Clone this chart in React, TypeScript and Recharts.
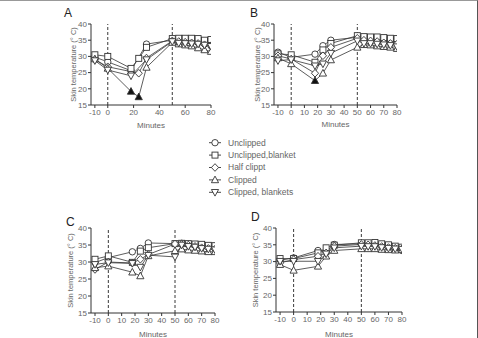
import React from 'react';
import { LineChart, Line, XAxis, YAxis, ReferenceLine } from 'recharts';

// Sampling times (minutes relative to clipping at 0)
const minutes = [-10, 0, 18, 24, 30, 50, 55, 60, 65, 70, 75, 80];
const xTicks = [-10, 0, 10, 20, 30, 40, 50, 60, 70, 80];
const yTicks = [15, 20, 25, 30, 35, 40];

const seriesNames = ['Unclipped', 'Unclipped,blanket', 'Half clippt', 'Clipped', 'Clipped, blankets'];

// Panel A
const unclippedA = [29.8, 28.3, 25.6, null, 33.8, 35.0, 34.9, 34.7, 34.6, 34.3, 33.9, 33.3];
const unclippedBlanketA = [30.5, 30.0, 26.3, 29.4, 32.8, 35.5, 35.6, 35.6, 35.6, 35.5, 35.0, 35.2];
const halfClipptA = [29.0, 26.8, null, 24.8, 29.5, 34.8, 34.6, 34.4, 34.2, 34.0, 33.6, 33.3];
const clippedA = [29.2, 26.3, 19.2, 17.5, 26.6, 34.3, 33.8, 33.5, 33.2, 32.6, 32.0, 31.5];
const clippedBlanketsA = [28.7, 25.8, 24.0, null, 29.0, 34.6, 34.1, 34.0, 33.9, 33.8, 33.5, 33.1];
const clippedSolidA = [18, 24];

// Panel B
const unclippedB = [31.3, 29.7, 30.7, 33.3, 35.0, 35.9, 35.3, 35.2, 35.0, 34.8, 34.6, 34.2];
const unclippedBlanketB = [30.8, 30.5, 28.2, 32.0, 34.0, 36.4, 36.1, 36.0, 36.0, 35.8, 35.6, 35.5];
const halfClipptB = [30.2, 29.2, 24.8, 30.2, 32.8, 35.6, 35.0, 34.8, 34.6, 34.2, 34.0, 33.8];
const clippedB = [29.5, 27.7, 22.5, 24.8, 28.9, 32.8, 33.6, 33.5, 33.2, 33.0, 32.8, 32.4];
const clippedBlanketsB = [28.7, 29.0, 27.1, 27.7, 31.0, 34.8, 34.0, 34.0, 33.8, 33.6, 33.4, 33.0];
const clippedSolidB = [18];

// Panel C
const unclippedC = [29.8, 31.3, 33.0, 34.0, 35.6, 35.4, 35.5, 35.2, 35.0, 34.7, 34.4, 34.0];
const unclippedBlanketC = [30.8, 31.8, 29.9, 33.2, 34.2, 35.4, 35.5, 35.4, 35.3, 35.2, 34.9, 34.8];
const halfClipptC = [27.8, 30.0, 29.7, 30.8, 32.2, 35.3, 35.2, 35.0, 34.6, 34.2, 34.0, 33.8];
const clippedC = [28.3, 28.8, 27.0, 25.9, 31.8, 33.3, 33.8, 33.5, 33.4, 33.2, 33.0, 33.0];
const clippedBlanketsC = [29.3, 29.8, 29.6, 28.5, 32.0, 31.5, 35.0, 34.6, 34.4, 34.0, 33.8, 33.6];
const clippedSolidC: number[] = [];

// Panel D
const unclippedD = [30.4, 31.1, 33.3, 33.0, 35.1, 35.3, 35.3, 35.2, 34.8, 34.3, 33.8, 33.3];
const unclippedBlanketD = [30.9, 30.9, 32.6, 34.1, 34.9, 35.6, 35.6, 35.7, 35.3, 35.0, 34.6, 34.3];
const halfClipptD = [29.6, 30.6, 31.6, 32.6, 34.6, 35.1, 35.0, 34.8, 34.5, 34.2, 34.0, 33.8];
const clippedD = [29.1, 27.4, 28.6, 31.6, 33.3, 33.8, 33.8, 33.8, 33.6, 33.5, 33.4, 33.5];
const clippedBlanketsD = [30.1, 30.1, 30.1, 32.3, 34.1, 34.6, 34.5, 34.5, 34.2, 34.0, 33.8, 33.7];
const clippedSolidD: number[] = [];

type Kind = 'circle' | 'square' | 'diamond' | 'triangle' | 'invTriangle';
const kinds: Kind[] = ['circle', 'square', 'diamond', 'triangle', 'invTriangle'];
const keys = ['u', 'ub', 'h', 'c', 'cb'];

const INK = '#333';
const TEXT = '#666';
const FONT = '"Liberation Sans", Arial, sans-serif';

function Marker({ cx, cy, kind, solid }: { cx: number; cy: number; kind: Kind; solid?: boolean }) {
  const fill = solid ? '#111' : '#fff';
  const common = { fill, stroke: INK, strokeWidth: 0.9 };
  if (kind === 'circle') return <circle cx={cx} cy={cy} r={3.2} {...common} />;
  if (kind === 'square') return <rect x={cx - 3} y={cy - 3} width={6} height={6} {...common} />;
  if (kind === 'diamond')
    return <polygon points={`${cx},${cy - 3.8} ${cx + 3.6},${cy} ${cx},${cy + 3.8} ${cx - 3.6},${cy}`} {...common} />;
  if (kind === 'triangle')
    return <polygon points={`${cx},${cy - 3.8} ${cx + 3.6},${cy + 2.8} ${cx - 3.6},${cy + 2.8}`} {...common} />;
  return <polygon points={`${cx},${cy + 3.8} ${cx + 3.6},${cy - 2.8} ${cx - 3.6},${cy - 2.8}`} {...common} />;
}

function buildRows(u: (number | null)[], ub: (number | null)[], h: (number | null)[], c: (number | null)[], cb: (number | null)[]) {
  return minutes.map((t, i) => ({ t, u: u[i], ub: ub[i], h: h[i], c: c[i], cb: cb[i] }));
}

const YW = 40;
const MR = 6;
const MT = 5;

type PanelProps = {
  letter: string;
  rows: ReturnType<typeof buildRows>;
  solid: number[];
  left: number;
  top: number;
  w: number;
  h: number;
  xh: number;
  xLabelOffset: number;
  labelOffset: number;
  letterPos: [number, number];
};

function Panel({ letter, rows, solid, left, top, w, h, xh, xLabelOffset, labelOffset, letterPos }: PanelProps) {
  const width = YW + w + MR;
  const height = MT + h + xh;
  return (
    <>
      <div
        style={{
          position: 'absolute',
          left: letterPos[0],
          top: letterPos[1],
          fontFamily: FONT,
          fontSize: 12,
          lineHeight: '12px',
          color: '#222',
        }}
      >
        {letter}
      </div>
      <div style={{ position: 'absolute', left: left - YW, top: top - MT }}>
        <LineChart width={width} height={height} data={rows} margin={{ top: MT, right: MR, bottom: 0, left: 0 }}>
          <XAxis
            dataKey="t"
            type="number"
            domain={[-13, 80]}
            ticks={xTicks}
            allowDataOverflow
            height={xh}
            tickSize={3}
            tickMargin={1}
            stroke={INK}
            tick={{ fill: TEXT, fontSize: 8, fontFamily: FONT }}
            label={{ value: 'Minutes', position: 'insideBottom', offset: xLabelOffset, fill: TEXT, fontSize: 8, fontFamily: FONT }}
          />
          <YAxis
            type="number"
            domain={[15, 40]}
            ticks={yTicks}
            width={YW}
            tickSize={3}
            tickMargin={1}
            stroke={INK}
            tick={{ fill: TEXT, fontSize: 8, fontFamily: FONT }}
            label={{
              value: 'Skin temperature (° C)',
              angle: -90,
              position: 'insideLeft',
              offset: labelOffset,
              fill: TEXT,
              fontSize: 7.5,
              fontFamily: FONT,
              style: { textAnchor: 'middle' },
            }}
          />
          <ReferenceLine x={0} stroke="#222" strokeDasharray="3 2" strokeWidth={0.9} />
          <ReferenceLine x={50} stroke="#222" strokeDasharray="3 2" strokeWidth={0.9} />
          {keys.map((k, si) => (
            <Line
              key={k}
              dataKey={k}
              name={seriesNames[si]}
              stroke={INK}
              strokeWidth={0.8}
              connectNulls
              isAnimationActive={false}
              activeDot={false}
              dot={(p: any) => {
                if (p.cx == null || p.cy == null || p.value == null) return <g key={`${k}-${p.index}`} />;
                const isSolid = k === 'c' && solid.includes(p.payload.t);
                return (
                  <g key={`${k}-${p.index}`}>
                    <Marker cx={p.cx} cy={p.cy} kind={kinds[si]} solid={isSolid} />
                  </g>
                );
              }}
            />
          ))}
        </LineChart>
      </div>
    </>
  );
}

function LegendBox() {
  const rowY = [141.7, 154.1, 166.5, 178.9, 191.3];
  return (
    <svg style={{ position: 'absolute', left: 0, top: 0 }} width={478} height={338}>
      {seriesNames.map((name, i) => (
        <g key={name}>
          <line x1={209} x2={221} y1={rowY[i]} y2={rowY[i]} stroke={INK} strokeWidth={0.9} />
          <Marker cx={215} cy={rowY[i]} kind={kinds[i]} />
          <text x={228} y={rowY[i]} dy="0.35em" fill={TEXT} fontSize={8.5} fontFamily={FONT}>
            {name}
          </text>
        </g>
      ))}
    </svg>
  );
}

export default function App() {
  const rowsA = buildRows(unclippedA, unclippedBlanketA, halfClipptA, clippedA, clippedBlanketsA);
  const rowsB = buildRows(unclippedB, unclippedBlanketB, halfClipptB, clippedB, clippedBlanketsB);
  const rowsC = buildRows(unclippedC, unclippedBlanketC, halfClipptC, clippedC, clippedBlanketsC);
  const rowsD = buildRows(unclippedD, unclippedBlanketD, halfClipptD, clippedD, clippedBlanketsD);
  return (
    <div
      style={{
        position: 'absolute',
        left: 0,
        top: 0,
        width: 478,
        height: 338,
        background: '#fff',
        borderTop: '1px solid #999',
        borderRight: '1px solid #555',
        boxSizing: 'border-box',
        overflow: 'hidden',
      }}
    >
      <LegendBox />
      <Panel letter="A" rows={rowsA} solid={clippedSolidA} left={91} top={23} w={120} h={81} xh={30} xLabelOffset={7.5} labelOffset={22} letterPos={[64, 6]} />
      <Panel letter="B" rows={rowsB} solid={clippedSolidB} left={274} top={23} w={123} h={81} xh={30} xLabelOffset={8} labelOffset={23} letterPos={[250, 6]} />
      <Panel letter="C" rows={rowsC} solid={clippedSolidC} left={91} top={227} w={124} h={85} xh={26} xLabelOffset={2.5} labelOffset={19} letterPos={[66, 215]} />
      <Panel letter="D" rows={rowsD} solid={clippedSolidD} left={276} top={227} w={126} h={84} xh={27} xLabelOffset={2.5} labelOffset={19} letterPos={[251, 210]} />
    </div>
  );
}
